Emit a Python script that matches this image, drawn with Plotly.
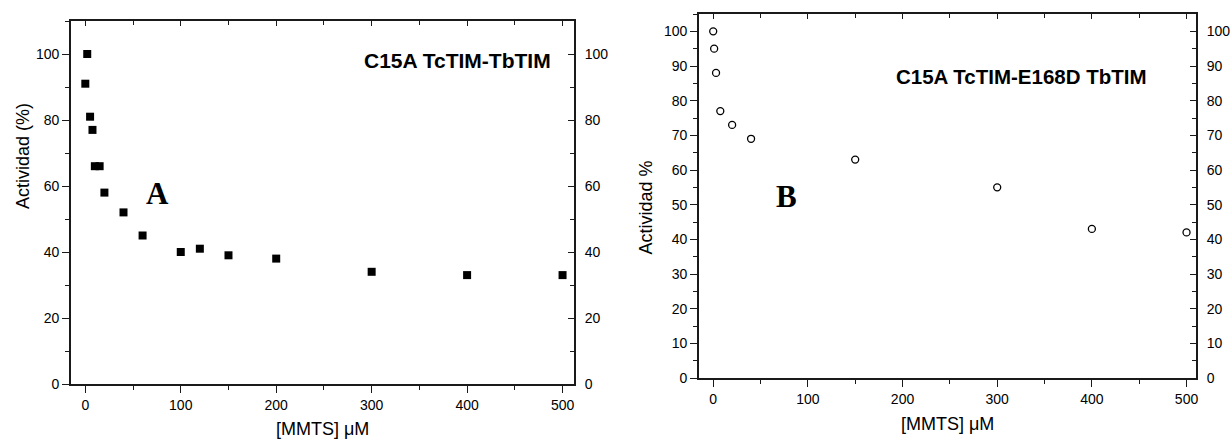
import plotly.graph_objects as go

# Panel A data: C15A TcTIM-TbTIM
a_x = [0, 2, 5, 7.5, 10, 15, 20, 40, 60, 100, 120, 150, 200, 300, 400, 500]
a_y = [91, 100, 81, 77, 66, 66, 58, 52, 45, 40, 41, 39, 38, 34, 33, 33]

# Panel B data: C15A TcTIM-E168D TbTIM
b_x = [0, 1, 3, 7.5, 20, 40, 150, 300, 400, 500]
b_y = [100, 95, 88, 77, 73, 69, 63, 55, 43, 42]

a_label = "C15A TcTIM-TbTIM"
b_label = "C15A TcTIM-E168D TbTIM"
x_title = "[MMTS] μM"
a_ytitle = "Actividad (%)"
b_ytitle = "Actividad %"

FONT = "Arial, Liberation Sans, sans-serif"
SERIF = "Times New Roman, Liberation Serif, serif"
AX = "#1a1a1a"

fig = go.Figure()
fig.add_trace(go.Scatter(x=a_x, y=a_y, mode="markers", xaxis="x", yaxis="y",
                         marker=dict(symbol="square", size=8, color="black"),
                         showlegend=False))
fig.add_trace(go.Scatter(x=b_x, y=b_y, mode="markers", xaxis="x2", yaxis="y2",
                         marker=dict(symbol="circle-open", size=7, color="black",
                                     line=dict(width=1.3, color="black")),
                         showlegend=False))

W, H = 1230, 443
A_dom_x = [71 / W, 574 / W]
A_dom_y = [1 - 384 / H, 1 - 21 / H]
B_dom_x = [699 / W, 1196 / W]
B_dom_y = [1 - 378 / H, 1 - 14 / H]

tickfont = dict(family=FONT, size=14, color="black")

def xax(dom, rng, anchor, **kw):
    d = dict(domain=dom, range=rng, anchor=anchor, showgrid=False, zeroline=False,
             automargin=False,
             showline=True, linecolor=AX, linewidth=1.7, tickcolor=AX, tickwidth=1.4,
             dtick=100, tick0=0, ticks="outside", ticklen=7, tickfont=tickfont,
             minor=dict(dtick=50, tick0=0, ticks="outside", ticklen=4, tickcolor=AX, tickwidth=1.2))
    d.update(kw)
    return d

def yax(dom, rng, anchor, dt, mdt, **kw):
    d = dict(domain=dom, range=rng, anchor=anchor, showgrid=False, zeroline=False,
             automargin=False,
             showline=True, linecolor=AX, linewidth=1.7, tickcolor=AX, tickwidth=1.4,
             dtick=dt, tick0=0, ticks="outside", ticklen=7, tickfont=tickfont,
             minor=dict(dtick=mdt, tick0=0, ticks="outside", ticklen=4, tickcolor=AX, tickwidth=1.2))
    d.update(kw)
    return d

A_xr = [-15, 512]
A_yr = [0, 110]
B_xr = [-15, 510]
B_yr = [0, 105]

fig.update_layout(
    width=W, height=H,
    margin=dict(l=0, r=0, t=0, b=0, autoexpand=False),
    paper_bgcolor="white", plot_bgcolor="white",
    xaxis=xax(A_dom_x, A_xr, "y"),
    yaxis=yax(A_dom_y, A_yr, "x", 20, 10),
    xaxis2=xax(B_dom_x, B_xr, "y2"),
    yaxis2=yax(B_dom_y, B_yr, "x2", 10, 5),
    # top / right mirror axes
    xaxis3=xax(A_dom_x, A_xr, "y", overlaying="x", side="top", ticks="inside",
               ticklen=5, showticklabels=False,
               minor=dict(dtick=50, tick0=0, ticks="inside", ticklen=4, tickcolor=AX, tickwidth=1.2)),
    yaxis3=yax(A_dom_y, A_yr, "x", 20, 10, overlaying="y", side="right", ticks="inside",
               ticklen=6, ticklabelstandoff=6,
               minor=dict(dtick=10, tick0=0, ticks="inside", ticklen=4, tickcolor=AX, tickwidth=1.2)),
    xaxis4=xax(B_dom_x, B_xr, "y2", overlaying="x2", side="top", ticks="inside",
               ticklen=5, showticklabels=False,
               minor=dict(dtick=50, tick0=0, ticks="inside", ticklen=4, tickcolor=AX, tickwidth=1.2)),
    yaxis4=yax(B_dom_y, B_yr, "x2", 10, 5, overlaying="y2", side="right", ticks="inside",
               ticklen=6, ticklabelstandoff=6,
               minor=dict(dtick=5, tick0=0, ticks="inside", ticklen=4, tickcolor=AX, tickwidth=1.2)),
)

# invisible traces so the overlay axes are drawn
fig.add_trace(go.Scatter(x=[None], y=[None], xaxis="x3", yaxis="y3", showlegend=False, hoverinfo="skip"))
fig.add_trace(go.Scatter(x=[None], y=[None], xaxis="x4", yaxis="y4", showlegend=False, hoverinfo="skip"))

ann = [
    dict(text=a_label, x=552.7 / W, y=1 - 60.7 / H, xanchor="right", yanchor="middle",
         font=dict(family=FONT, size=21, color="black", weight="bold")),
    dict(text=b_label, x=1149 / W, y=1 - 76 / H, xanchor="right", yanchor="middle",
         font=dict(family=FONT, size=20.5, color="black", weight="bold")),
    dict(text="A", x=157 / W, y=1 - 194 / H, xanchor="center", yanchor="middle",
         font=dict(family=SERIF, size=31, color="black", weight="bold")),
    dict(text="B", x=786.7 / W, y=1 - 196.7 / H, xanchor="center", yanchor="middle",
         font=dict(family=SERIF, size=31, color="black", weight="bold")),
    dict(text=x_title, x=323 / W, y=1 - 429 / H, xanchor="center", yanchor="middle",
         font=dict(family=FONT, size=18, color="black")),
    dict(text=x_title, x=947.5 / W, y=1 - 424 / H, xanchor="center", yanchor="middle",
         font=dict(family=FONT, size=18, color="black")),
    dict(text=a_ytitle, x=23 / W, y=1 - 156 / H, xanchor="center", yanchor="middle", textangle=-90,
         font=dict(family=FONT, size=18, color="black")),
    dict(text=b_ytitle, x=645 / W, y=1 - 207.5 / H, xanchor="center", yanchor="middle", textangle=-90,
         font=dict(family=FONT, size=18, color="black")),
]
for a in ann:
    a.update(xref="paper", yref="paper", showarrow=False)
fig.update_layout(annotations=ann)

fig.write_html("out.html", config={"displayModeBar": False},
               post_script="document.body.style.margin='0';document.body.style.overflow='hidden';")
